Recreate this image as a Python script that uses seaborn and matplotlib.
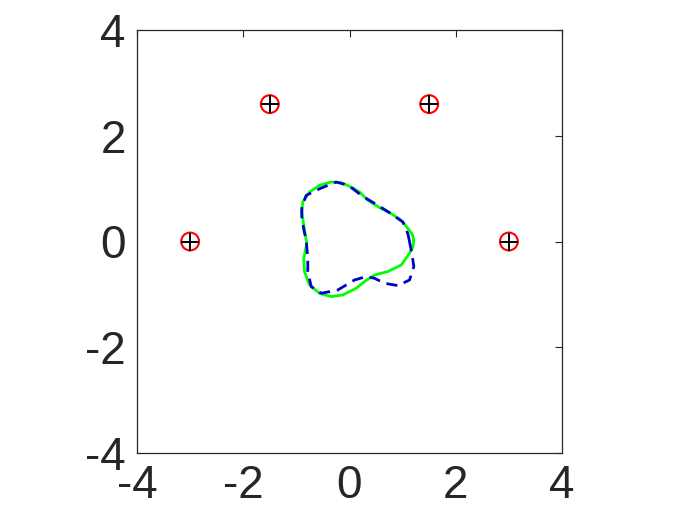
import numpy as np
import pandas as pd
import matplotlib
matplotlib.use("Agg")
import matplotlib.pyplot as plt
import seaborn as sns

# Marker locations
pts_x = [-3.0, -1.5, 1.5, 3.0]
pts_y = [0.0, 2.598, 2.598, 0.0]

# Green solid closed curve
green_x = [1.211, 1.185, 1.130, 0.974, 0.785, 0.597, 0.345, 0.188, 0.032, -0.156, -0.345,
           -0.565, -0.753, -0.879, -0.898, -0.861, -0.805, -0.861, -0.847, -0.753, -0.565,
           -0.345, -0.126, 0.126, 0.282, 0.471, 0.721, 0.974, 1.130, 1.195]
green_y = [0.020, 0.130, 0.210, 0.400, 0.527, 0.622, 0.779, 0.936, 1.030, 1.113, 1.125,
           1.062, 0.936, 0.747, 0.558, 0.306, -0.040, -0.318, -0.569, -0.822, -0.979,
           -1.042, -1.011, -0.885, -0.758, -0.633, -0.569, -0.444, -0.223, -0.100]

# Blue dashed closed curve
blue_x = [1.130, 1.098, 1.004, 0.753, 0.533, 0.220, 0.062, -0.094, -0.250, -0.533,
          -0.815, -0.898, -0.898, -0.857, -0.815, -0.785, -0.785, -0.721, -0.533, -0.220,
          0.094, 0.314, 0.471, 0.659, 0.910, 1.130, 1.211, 1.173]
blue_y = [-0.002, 0.149, 0.369, 0.546, 0.684, 0.873, 1.000, 1.081, 1.125, 1.011,
          0.873, 0.652, 0.439, 0.212, 0.023, -0.318, -0.569, -0.853, -0.979, -0.917,
          -0.728, -0.664, -0.696, -0.790, -0.834, -0.728, -0.474, -0.223]

ticks = [-4, -2, 0, 2, 4]
tick_labels = ["-4", "-2", "0", "2", "4"]

sns.set_style("white")
plt.rcParams['font.family'] = ['Liberation Sans', 'DejaVu Sans']

fig = plt.figure(figsize=(7, 5.25), dpi=100)
ax = fig.add_axes([137/700, 1 - 453/525, 425/700, 423/525])

gdf = pd.DataFrame({"x": green_x + green_x[:1], "y": green_y + green_y[:1]})
bdf = pd.DataFrame({"x": blue_x + blue_x[:1], "y": blue_y + blue_y[:1]})

sns.lineplot(data=gdf, x="x", y="y", sort=False, estimator=None, color="#00ff00",
             linewidth=2.0, ax=ax)
sns.lineplot(data=bdf, x="x", y="y", sort=False, estimator=None, color="#0000cc",
             linewidth=2.0, linestyle=(0, (4, 2.5)), ax=ax)

pdf = pd.DataFrame({"x": pts_x, "y": pts_y})
sns.scatterplot(data=pdf, x="x", y="y", marker="o", s=165, facecolors="none",
                edgecolor="red", linewidth=1.5, ax=ax, zorder=5)
sns.scatterplot(data=pdf, x="x", y="y", marker="+", s=180, color="black",
                linewidth=1.4, ax=ax, zorder=6)

ax.set_xlim(-4, 4)
ax.set_ylim(-4, 4)
ax.set_xticks(ticks)
ax.set_xticklabels(tick_labels)
ax.set_yticks(ticks)
ax.set_yticklabels(tick_labels)
ax.set_xlabel("")
ax.set_ylabel("")
ax.tick_params(direction="in", length=5, width=0.8, top=True, right=True,
               labelsize=33, labelcolor="#262626", colors="#262626", pad=8)
for s in ax.spines.values():
    s.set_color("#262626")
    s.set_linewidth(0.9)
    s.set_visible(True)

fig.savefig("out.png", dpi=100)
